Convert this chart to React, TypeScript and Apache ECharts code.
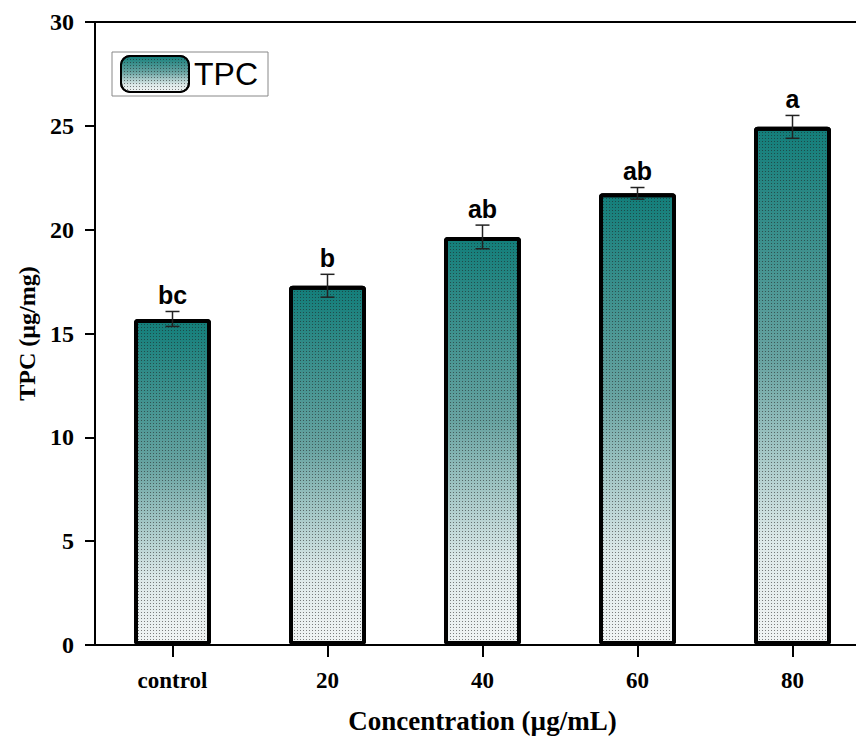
import React, { useEffect, useRef } from "react";
import * as echarts from "echarts";

const categories = ["control", "20", "40", "60", "80"];
const tpcValues = [15.7, 17.3, 19.65, 21.75, 24.95];
const tpcErrors = [0.36, 0.55, 0.57, 0.28, 0.55];
const letters = ["bc", "b", "ab", "ab", "a"];
const yTicks = [0, 5, 10, 15, 20, 25, 30];

export default function App() {
  const ref = useRef<HTMLDivElement>(null);
  useEffect(() => {
    if (!ref.current) return;
    const chart = echarts.init(ref.current, undefined, { renderer: "svg" });
    const serif = "'Liberation Serif', 'Times New Roman', serif";
    const sans = "'Liberation Sans', Arial, sans-serif";
    const grad = new echarts.graphic.LinearGradient(0, 0, 0, 1, [
      { offset: 0, color: "#137e7a" },
      { offset: 0.45, color: "#68a3a1" },
      { offset: 0.8, color: "#dce8e8" },
      { offset: 1, color: "#f1f4f4" },
    ]);
    const errData = categories.map((c, i) => [i, tpcValues[i], tpcErrors[i]]);
    chart.setOption({
      animation: false,
      aria: { enabled: true, decal: { show: true } },
      grid: { left: 95, top: 22, right: 30, bottom: 95, show: true, borderColor: "#000", borderWidth: 2 },
      legend: {
        left: 112,
        top: 52,
        orient: "horizontal",
        padding: [3, 10, 3, 8],
        borderColor: "#888",
        borderWidth: 1,
        itemWidth: 68,
        itemHeight: 36,
        textStyle: { fontFamily: sans, fontSize: 32, color: "#000" },
        data: [{ name: "TPC" }],
      },
      xAxis: {
        type: "category",
        data: categories,
        axisLine: { lineStyle: { color: "#000", width: 2 } },
        axisTick: { show: true, alignWithLabel: true, length: 12, inside: false, lineStyle: { width: 2, color: "#000" } },
        axisLabel: { fontFamily: serif, fontWeight: "bold", fontSize: 23, color: "#000", margin: 24 },
        name: "Concentration (µg/mL)",
        nameLocation: "middle",
        nameGap: 62,
        nameTextStyle: { fontFamily: serif, fontWeight: "bold", fontSize: 27, color: "#000" },
      },
      yAxis: {
        type: "value",
        min: yTicks[0],
        max: yTicks[yTicks.length - 1],
        interval: 5,
        splitLine: { show: false },
        axisLine: { show: true, lineStyle: { color: "#000", width: 2 } },
        axisTick: { show: true, length: 10, lineStyle: { width: 2, color: "#000" } },
        axisLabel: { fontFamily: serif, fontWeight: "bold", fontSize: 24, color: "#000", margin: 21 },
        name: "TPC (µg/mg)",
        nameLocation: "middle",
        nameGap: 56,
        nameTextStyle: { fontFamily: serif, fontWeight: "bold", fontSize: 24, color: "#000" },
      },
      series: [
        {
          name: "TPC",
          type: "bar",
          data: tpcValues,
          barWidth: 77,
          itemStyle: {
            color: grad,
            borderColor: "#000",
            borderWidth: 4,
            borderRadius: 2,
            decal: {
              symbol: "rect",
              symbolSize: 1,
              color: "rgba(30,30,30,0.55)",
              dashArrayX: [1, 2],
              dashArrayY: [1, 2],
              rotation: 0,
            },
          },
        },
        {
          type: "custom",
          name: "err",
          data: errData,
          z: 10,
          renderItem: (params: any, api: any) => {
            const x = api.value(0);
            const v = api.value(1);
            const e = api.value(2);
            const top = api.coord([x, v + e]);
            const bot = api.coord([x, v - e]);
            const hw = 7;
            const ls = { stroke: "#222", lineWidth: 1.5 };
            return {
              type: "group",
              children: [
                { type: "line", shape: { x1: top[0], y1: top[1], x2: bot[0], y2: bot[1] }, style: ls },
                { type: "line", shape: { x1: top[0] - hw, y1: top[1], x2: top[0] + hw, y2: top[1] }, style: ls },
                { type: "line", shape: { x1: bot[0] - hw, y1: bot[1], x2: bot[0] + hw, y2: bot[1] }, style: ls },
                {
                  type: "text",
                  style: {
                    text: letters[params.dataIndex],
                    x: top[0],
                    y: top[1] - 4,
                    align: "center",
                    verticalAlign: "bottom",
                    fontFamily: sans,
                    fontWeight: "bold",
                    fontSize: 25,
                    fill: "#000",
                  },
                },
              ],
            };
          },
        },
      ],
    });
    return () => chart.dispose();
  }, []);
  return (
    <div style={{ position: "fixed", left: 0, top: 0, width: 856, height: 740, overflow: "hidden", background: "#fff" }}>
      <div ref={ref} style={{ width: 900, height: 740 }} />
    </div>
  );
}
